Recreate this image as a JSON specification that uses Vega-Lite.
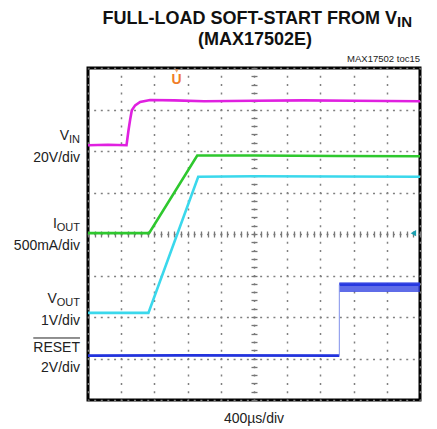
{
  "$schema": "https://vega.github.io/schema/vega-lite/v6.json",
  "width": 332,
  "height": 332,
  "autosize": {"type": "none"},
  "padding": {"left": 88, "top": 68, "right": 17, "bottom": 29},
  "background": "white",
  "config": {"view": {"stroke": "black", "strokeWidth": 3}, "font": "Liberation Sans", "text": {"font": "Liberation Sans"}},
  "datasets": {
    "traces": [
      {"series": "VIN", "t": 0, "v": 6.14},
      {"series": "VIN", "t": 0.6, "v": 6.15},
      {"series": "VIN", "t": 1.16, "v": 6.14},
      {"series": "VIN", "t": 1.19, "v": 6.32},
      {"series": "VIN", "t": 1.22, "v": 6.5},
      {"series": "VIN", "t": 1.27, "v": 6.76},
      {"series": "VIN", "t": 1.32, "v": 6.98},
      {"series": "VIN", "t": 1.42, "v": 7.1},
      {"series": "VIN", "t": 1.57, "v": 7.18},
      {"series": "VIN", "t": 1.87, "v": 7.23},
      {"series": "VIN", "t": 2.6, "v": 7.22},
      {"series": "VIN", "t": 3.5, "v": 7.2},
      {"series": "VIN", "t": 5, "v": 7.21},
      {"series": "VIN", "t": 6.5, "v": 7.22},
      {"series": "VIN", "t": 8, "v": 7.21},
      {"series": "VIN", "t": 10, "v": 7.2},
      {"series": "IOUT", "t": 0, "v": 4.02},
      {"series": "IOUT", "t": 1.84, "v": 4.02},
      {"series": "IOUT", "t": 3.29, "v": 5.89},
      {"series": "IOUT", "t": 5, "v": 5.89},
      {"series": "IOUT", "t": 7.5, "v": 5.88},
      {"series": "IOUT", "t": 10, "v": 5.875},
      {"series": "VOUT", "t": 0, "v": 2.1},
      {"series": "VOUT", "t": 1.82, "v": 2.1},
      {"series": "VOUT", "t": 3.32, "v": 5.38},
      {"series": "VOUT", "t": 5, "v": 5.39},
      {"series": "VOUT", "t": 7.5, "v": 5.385},
      {"series": "VOUT", "t": 10, "v": 5.38},
      {"series": "RESET", "t": 0, "v": 1.07},
      {"series": "RESET", "t": 3, "v": 1.075},
      {"series": "RESET", "t": 7.57, "v": 1.07},
      {"series": "RESET_H", "t": 7.57, "v": 2.78},
      {"series": "RESET_H", "t": 10, "v": 2.78}
    ],
    "band": [
      {"t": 7.57, "lo": 2.6, "hi": 2.84},
      {"t": 10, "lo": 2.6, "hi": 2.84}
    ]
  },
  "resolve": {"axis": {"x": "independent", "y": "independent"}},
  "layer": [
    {
      "data": {"name": "traces"},
      "mark": {"type": "line", "strokeWidth": 2.6, "interpolate": "linear"},
      "encoding": {
        "x": {"field": "t", "type": "quantitative", "scale": {"domain": [0, 10], "nice": false, "zero": false},
          "axis": {"values": [0,1,2,3,4,5,6,7,8,9,10], "grid": true, "gridColor": "#808080", "gridDash": [2, 6.3], "gridDashOffset": 1, "gridWidth": 1.5, "labels": false, "ticks": false, "domain": false, "title": null, "orient": "bottom"}},
        "y": {"field": "v", "type": "quantitative", "scale": {"domain": [0, 8], "nice": false, "zero": false},
          "axis": {"values": [0,1,2,3,4,5,6,7,8], "grid": true, "gridColor": "#808080", "gridDash": [2, 4.64], "gridDashOffset": 1, "gridWidth": 1.5, "labels": false, "ticks": false, "domain": false, "title": null, "orient": "left"}},
        "color": {"field": "series", "type": "nominal", "scale": {"domain": ["VIN", "IOUT", "VOUT", "RESET", "RESET_H"], "range": ["#e020e0", "#2ec82e", "#3ad8ec", "#2233dd", "#2233dd"]}, "legend": null}
      }
    },
    {
      "data": {"name": "band"},
      "mark": {"type": "area", "color": "#2a3be0", "opacity": 0.75},
      "encoding": {
        "x": {"field": "t", "type": "quantitative", "scale": {"domain": [0, 10], "nice": false, "zero": false}, "axis": null},
        "y": {"field": "lo", "type": "quantitative", "scale": {"domain": [0, 8], "nice": false, "zero": false}, "axis": null},
        "y2": {"field": "hi"}
      }
    },
    {
      "data": {"values": [{}]},
      "mark": {"type": "rule", "color": "#8090ea", "strokeWidth": 1},
      "encoding": {
        "x": {"datum": 7.57, "type": "quantitative", "scale": {"domain": [0, 10], "nice": false, "zero": false}, "axis": null},
        "y": {"datum": 1.07, "type": "quantitative", "scale": {"domain": [0, 8], "nice": false, "zero": false}, "axis": null},
        "y2": {"datum": 2.78}
      }
    },
    {
      "data": {"values": [{}]},
      "mark": {"type": "point", "opacity": 0},
      "encoding": {
        "x": {"datum": 5, "type": "quantitative", "scale": {"domain": [0, 10], "nice": false, "zero": false},
          "axis": {"orient": "bottom", "offset": -169, "values": [0,0.2,0.4,0.6,0.8,1,1.2,1.4,1.6,1.8,2,2.2,2.4,2.6,2.8,3,3.2,3.4,3.6,3.8,4,4.2,4.4,4.6,4.8,5,5.2,5.4,5.6,5.8,6,6.2,6.4,6.6,6.8,7,7.2,7.4,7.6,7.8,8,8.2,8.4,8.6,8.8,9,9.2,9.4,9.6,9.8,10], "tickSize": 6, "tickColor": "#777777", "tickWidth": 1.3, "labels": false, "domain": false, "grid": false, "title": null}},
        "y": {"datum": 4, "type": "quantitative", "scale": {"domain": [0, 8], "nice": false, "zero": false},
          "axis": {"orient": "left", "offset": -169, "values": [0,0.2,0.4,0.6,0.8,1,1.2,1.4,1.6,1.8,2,2.2,2.4,2.6,2.8,3,3.2,3.4,3.6,3.8,4,4.2,4.4,4.6,4.8,5,5.2,5.4,5.6,5.8,6,6.2,6.4,6.6,6.8,7,7.2,7.4,7.6,7.8,8], "tickSize": 6, "tickColor": "#777777", "tickWidth": 1.3, "labels": false, "domain": false, "grid": false, "title": null}}
      }
    },
    {
      "data": {"values": [{}]},
      "mark": {"type": "text", "text": "U", "fontSize": 14, "fontWeight": "bold", "color": "#f07d28", "baseline": "middle", "align": "center"},
      "encoding": {
        "x": {"datum": 2.67, "type": "quantitative", "scale": {"domain": [0, 10], "nice": false, "zero": false}, "axis": null},
        "y": {"datum": 7.72, "type": "quantitative", "scale": {"domain": [0, 8], "nice": false, "zero": false}, "axis": null}
      }
    },
    {
      "data": {"values": [{}]},
      "mark": {"type": "point", "shape": "triangle-down", "filled": true, "size": 16, "color": "#f07d28"},
      "encoding": {
        "x": {"datum": 2.67, "type": "quantitative", "scale": {"domain": [0, 10], "nice": false, "zero": false}, "axis": null},
        "y": {"datum": 7.93, "type": "quantitative", "scale": {"domain": [0, 8], "nice": false, "zero": false}, "axis": null}
      }
    },
    {
      "data": {"values": [{}]},
      "mark": {"type": "point", "shape": "triangle-left", "filled": true, "size": 40, "color": "#1aa0b0", "opacity": 1},
      "encoding": {
        "x": {"datum": 9.8, "type": "quantitative", "scale": {"domain": [0, 10], "nice": false, "zero": false}, "axis": null},
        "y": {"datum": 4.02, "type": "quantitative", "scale": {"domain": [0, 8], "nice": false, "zero": false}, "axis": null}
      }
    },
    {
      "data": {"values": [{}]},
      "mark": {"type": "text", "text": "FULL-LOAD SOFT-START FROM V", "fontSize": 18, "fontWeight": "bold", "color": "#111", "align": "right", "baseline": "alphabetic"},
      "encoding": {
        "x": {"datum": 9.31, "type": "quantitative", "scale": {"domain": [0, 10], "nice": false, "zero": false}, "axis": null},
        "y": {"datum": 9.06, "type": "quantitative", "scale": {"domain": [0, 8], "nice": false, "zero": false}, "axis": null}
      }
    },
    {
      "data": {"values": [{}]},
      "mark": {"type": "text", "text": "IN", "fontSize": 15, "fontWeight": "bold", "color": "#111", "align": "left", "baseline": "alphabetic", "dy": 3},
      "encoding": {
        "x": {"datum": 9.31, "type": "quantitative", "scale": {"domain": [0, 10], "nice": false, "zero": false}, "axis": null},
        "y": {"datum": 9.06, "type": "quantitative", "scale": {"domain": [0, 8], "nice": false, "zero": false}, "axis": null}
      }
    },
    {
      "data": {"values": [{}]},
      "mark": {"type": "text", "text": "(MAX17502E)", "fontSize": 18, "fontWeight": "bold", "color": "#111", "align": "center", "baseline": "alphabetic"},
      "encoding": {
        "x": {"datum": 5.03, "type": "quantitative", "scale": {"domain": [0, 10], "nice": false, "zero": false}, "axis": null},
        "y": {"datum": 8.55, "type": "quantitative", "scale": {"domain": [0, 8], "nice": false, "zero": false}, "axis": null}
      }
    },
    {
      "data": {"values": [{}]},
      "mark": {"type": "text", "text": "MAX17502 toc15", "fontSize": 9.5, "color": "#222", "align": "right", "baseline": "alphabetic"},
      "encoding": {
        "x": {"datum": 10, "type": "quantitative", "scale": {"domain": [0, 10], "nice": false, "zero": false}, "axis": null},
        "y": {"datum": 8.14, "type": "quantitative", "scale": {"domain": [0, 8], "nice": false, "zero": false}, "axis": null}
      }
    },
    {
      "data": {"values": [{}]},
      "mark": {"type": "text", "text": "400µs/div", "fontSize": 14, "color": "#222", "align": "center", "baseline": "alphabetic"},
      "encoding": {
        "x": {"datum": 5, "type": "quantitative", "scale": {"domain": [0, 10], "nice": false, "zero": false}, "axis": null},
        "y": {"datum": -0.56, "type": "quantitative", "scale": {"domain": [0, 8], "nice": false, "zero": false}, "axis": null}
      }
    },
    {
      "data": {"values": [{}]},
      "mark": {"type": "text", "text": "V", "fontSize": 14, "color": "#222", "align": "right", "baseline": "alphabetic"},
      "encoding": {
        "x": {"datum": -0.572, "type": "quantitative", "scale": {"domain": [0, 10], "nice": false, "zero": false}, "axis": null},
        "y": {"datum": 6.265, "type": "quantitative", "scale": {"domain": [0, 8], "nice": false, "zero": false}, "axis": null}
      }
    },
    {
      "data": {"values": [{}]},
      "mark": {"type": "text", "text": "IN", "fontSize": 11, "color": "#222", "align": "left", "baseline": "alphabetic", "dy": 3},
      "encoding": {
        "x": {"datum": -0.572, "type": "quantitative", "scale": {"domain": [0, 10], "nice": false, "zero": false}, "axis": null},
        "y": {"datum": 6.265, "type": "quantitative", "scale": {"domain": [0, 8], "nice": false, "zero": false}, "axis": null}
      }
    },
    {
      "data": {"values": [{}]},
      "mark": {"type": "text", "text": "20V/div", "fontSize": 14, "color": "#222", "align": "right", "baseline": "alphabetic"},
      "encoding": {
        "x": {"datum": -0.241, "type": "quantitative", "scale": {"domain": [0, 10], "nice": false, "zero": false}, "axis": null},
        "y": {"datum": 5.735, "type": "quantitative", "scale": {"domain": [0, 8], "nice": false, "zero": false}, "axis": null}
      }
    },
    {
      "data": {"values": [{}]},
      "mark": {"type": "text", "text": "I", "fontSize": 14, "color": "#222", "align": "right", "baseline": "alphabetic"},
      "encoding": {
        "x": {"datum": -0.94, "type": "quantitative", "scale": {"domain": [0, 10], "nice": false, "zero": false}, "axis": null},
        "y": {"datum": 4.145, "type": "quantitative", "scale": {"domain": [0, 8], "nice": false, "zero": false}, "axis": null}
      }
    },
    {
      "data": {"values": [{}]},
      "mark": {"type": "text", "text": "OUT", "fontSize": 11, "color": "#222", "align": "left", "baseline": "alphabetic", "dy": 3},
      "encoding": {
        "x": {"datum": -0.94, "type": "quantitative", "scale": {"domain": [0, 10], "nice": false, "zero": false}, "axis": null},
        "y": {"datum": 4.145, "type": "quantitative", "scale": {"domain": [0, 8], "nice": false, "zero": false}, "axis": null}
      }
    },
    {
      "data": {"values": [{}]},
      "mark": {"type": "text", "text": "500mA/div", "fontSize": 14, "color": "#222", "align": "right", "baseline": "alphabetic"},
      "encoding": {
        "x": {"datum": -0.241, "type": "quantitative", "scale": {"domain": [0, 10], "nice": false, "zero": false}, "axis": null},
        "y": {"datum": 3.614, "type": "quantitative", "scale": {"domain": [0, 8], "nice": false, "zero": false}, "axis": null}
      }
    },
    {
      "data": {"values": [{}]},
      "mark": {"type": "text", "text": "V", "fontSize": 14, "color": "#222", "align": "right", "baseline": "alphabetic"},
      "encoding": {
        "x": {"datum": -0.94, "type": "quantitative", "scale": {"domain": [0, 10], "nice": false, "zero": false}, "axis": null},
        "y": {"datum": 2.337, "type": "quantitative", "scale": {"domain": [0, 8], "nice": false, "zero": false}, "axis": null}
      }
    },
    {
      "data": {"values": [{}]},
      "mark": {"type": "text", "text": "OUT", "fontSize": 11, "color": "#222", "align": "left", "baseline": "alphabetic", "dy": 3},
      "encoding": {
        "x": {"datum": -0.94, "type": "quantitative", "scale": {"domain": [0, 10], "nice": false, "zero": false}, "axis": null},
        "y": {"datum": 2.337, "type": "quantitative", "scale": {"domain": [0, 8], "nice": false, "zero": false}, "axis": null}
      }
    },
    {
      "data": {"values": [{}]},
      "mark": {"type": "text", "text": "1V/div", "fontSize": 14, "color": "#222", "align": "right", "baseline": "alphabetic"},
      "encoding": {
        "x": {"datum": -0.241, "type": "quantitative", "scale": {"domain": [0, 10], "nice": false, "zero": false}, "axis": null},
        "y": {"datum": 1.807, "type": "quantitative", "scale": {"domain": [0, 8], "nice": false, "zero": false}, "axis": null}
      }
    },
    {
      "data": {"values": [{}]},
      "mark": {"type": "text", "text": "RESET", "fontSize": 14, "color": "#222", "align": "right", "baseline": "alphabetic"},
      "encoding": {
        "x": {"datum": -0.241, "type": "quantitative", "scale": {"domain": [0, 10], "nice": false, "zero": false}, "axis": null},
        "y": {"datum": 1.157, "type": "quantitative", "scale": {"domain": [0, 8], "nice": false, "zero": false}, "axis": null}
      }
    },
    {
      "data": {"values": [{}]},
      "mark": {"type": "rule", "color": "#222", "strokeWidth": 1},
      "encoding": {
        "x": {"datum": -1.648, "type": "quantitative", "scale": {"domain": [0, 10], "nice": false, "zero": false}, "axis": null},
        "x2": {"datum": -0.241},
        "y": {"datum": 1.494, "type": "quantitative", "scale": {"domain": [0, 8], "nice": false, "zero": false}, "axis": null}
      }
    },
    {
      "data": {"values": [{}]},
      "mark": {"type": "text", "text": "2V/div", "fontSize": 14, "color": "#222", "align": "right", "baseline": "alphabetic"},
      "encoding": {
        "x": {"datum": -0.241, "type": "quantitative", "scale": {"domain": [0, 10], "nice": false, "zero": false}, "axis": null},
        "y": {"datum": 0.675, "type": "quantitative", "scale": {"domain": [0, 8], "nice": false, "zero": false}, "axis": null}
      }
    }
  ]
}
